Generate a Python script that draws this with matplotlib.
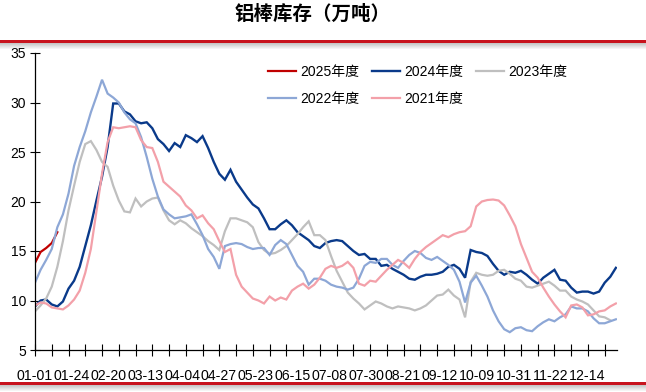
import numpy as np
import matplotlib
matplotlib.use("Agg")
import matplotlib.pyplot as plt
from matplotlib.patches import Rectangle

plt.rcParams['font.family'] = ['Liberation Sans', 'Noto Sans CJK SC', 'DejaVu Sans']

title = "铝棒库存（万吨）"
x_labels = ['01-01', '01-24', '02-20', '03-13', '04-04', '04-27', '05-23', '06-15',
            '07-08', '07-30', '08-21', '09-12', '10-09', '10-31', '11-22', '12-14']

s2025 = [13.8, 14.9, 15.3, 15.8, 16.9]
s2024 = [9.4, 10.0, 10.1, 9.6, 9.4, 9.9, 11.2, 12.0, 13.4, 15.5,
         17.6, 20.1, 22.5, 25.5, 29.9, 29.9, 29.1, 28.8, 28.1, 27.9,
         28.0, 27.4, 26.3, 25.8, 25.1, 25.9, 25.5, 26.7, 26.4, 26.0,
         26.6, 25.4, 24.0, 22.8, 22.2, 23.2, 22.0, 21.2, 20.4, 19.7,
         19.3, 18.3, 17.2, 17.2, 17.7, 18.1, 17.6, 16.9, 16.5, 16.1,
         15.5, 15.3, 15.8, 16.0, 16.1, 16.0, 15.5, 15.0, 14.6, 14.7,
         14.2, 14.2, 13.5, 13.6, 13.2, 12.9, 12.6, 12.2, 12.1, 12.4,
         12.6, 12.6, 12.7, 12.9, 13.4, 13.6, 13.2, 12.3, 15.1, 14.9,
         14.8, 14.5, 13.7, 13.0, 12.6, 12.9, 12.8, 13.0, 12.6, 12.1,
         11.7, 12.3, 12.7, 13.1, 12.1, 12.0, 11.3, 10.8, 10.9, 10.9,
         10.7, 10.9, 11.8, 12.4, 13.3]
s2023 = [8.9, 9.5, 10.2, 11.4, 13.4, 16.0, 19.1, 21.6, 24.0, 25.8,
         26.1, 25.2, 24.0, 23.5, 21.6, 20.1, 19.0, 18.9, 20.3, 19.5,
         20.0, 20.3, 20.4, 19.1, 18.1, 17.7, 18.1, 17.8, 17.3, 16.9,
         16.5, 16.0, 15.6, 15.1, 17.0, 18.3, 18.3, 18.1, 17.9, 17.4,
         15.9, 15.1, 14.7, 14.8, 15.1, 15.5, 16.1, 16.7, 17.4, 18.0,
         16.6, 16.6, 16.1, 14.5, 13.0, 11.9, 10.8, 10.2, 9.7, 9.1,
         9.5, 9.9, 9.7, 9.4, 9.2, 9.4, 9.3, 9.2, 9.0, 9.2,
         9.5, 10.0, 10.5, 10.6, 11.1, 10.5, 10.1, 8.3, 11.9, 12.8,
         12.6, 12.5, 12.6, 13.0, 13.1, 12.7, 12.2, 12.0, 11.4, 11.3,
         11.5, 11.7, 11.9, 11.5, 11.0, 11.0, 10.4, 10.1, 9.9, 9.6,
         9.0, 8.4, 8.3, 8.0]
s2022 = [11.8, 13.1, 14.1, 15.2, 17.4, 18.7, 20.8, 23.6, 25.5, 27.1,
         29.0, 30.6, 32.3, 30.9, 30.5, 30.0, 29.0, 28.3, 27.9, 26.5,
         24.5, 22.3, 20.5, 19.2, 18.7, 18.3, 18.4, 18.5, 18.7, 17.7,
         16.6, 15.2, 14.4, 13.2, 15.5, 15.7, 15.8, 15.7, 15.4, 15.2,
         15.3, 15.3, 14.6, 15.6, 16.1, 15.7, 14.6, 13.5, 12.9, 11.6,
         12.2, 12.2, 12.0, 11.6, 11.4, 11.3, 11.1, 11.3, 12.2, 13.5,
         13.9, 13.8, 14.2, 14.2, 13.6, 13.3, 14.0, 14.6, 15.0, 14.8,
         14.3, 14.1, 14.4, 14.0, 13.6, 13.1, 11.9, 9.8, 11.8, 12.5,
         11.5, 10.4, 9.0, 7.9, 7.1, 6.8, 7.2, 7.3, 7.0, 6.9,
         7.4, 7.8, 8.1, 7.9, 8.3, 8.6, 9.4, 9.2, 9.2, 8.9,
         8.2, 7.7, 7.7, 7.9, 8.1]
s2021 = [9.5, 9.8, 9.7, 9.3, 9.2, 9.1, 9.5, 10.1, 11.0, 12.8,
         15.2, 19.0, 22.8, 26.0, 27.5, 27.4, 27.5, 27.6, 27.5, 26.2,
         25.5, 25.4, 24.0, 22.0, 21.5, 21.0, 20.5, 19.6, 19.1, 18.3,
         18.6, 17.8, 17.2, 16.0, 14.9, 15.2, 12.6, 11.4, 10.8, 10.2,
         10.0, 9.7, 10.4, 10.0, 10.3, 10.1, 11.0, 11.4, 11.7, 11.2,
         11.6, 12.3, 13.2, 13.5, 13.3, 13.5, 13.9, 13.3, 11.7, 11.5,
         12.0, 11.9, 12.5, 13.1, 13.6, 14.1, 13.8, 13.3, 14.2, 14.9,
         15.4, 15.8, 16.2, 16.6, 16.4, 16.7, 16.9, 17.0, 17.5, 19.5,
         20.0, 20.15, 20.2, 20.1, 19.6, 18.6, 17.5, 15.7, 14.3, 12.9,
         12.3, 11.3, 10.4, 9.6, 8.9, 8.3, 9.5, 9.6, 9.3, 8.5,
         8.6, 8.9, 9.0, 9.4, 9.7]

series = [
    ("2025年度", s2025, "#C00000", 1.6),
    ("2024年度", s2024, "#0A3A8A", 1.7),
    ("2023年度", s2023, "#BFBFBF", 1.6),
    ("2022年度", s2022, "#8DA7D6", 1.6),
    ("2021年度", s2021, "#F3A0A9", 1.6),
]

W, H = 646, 392
fig = plt.figure(figsize=(W / 100, H / 100), dpi=100)
fig.patch.set_facecolor('white')

ax_left, ax_right, ax_top, ax_bot = 35, 617, 53, 350
ax = fig.add_axes([ax_left / W, 1 - ax_bot / H, (ax_right - ax_left) / W, (ax_bot - ax_top) / H])
ax.set_facecolor('none')

handles = {}
for name, vals, col, lw in series:
    x = np.arange(len(vals))
    ln, = ax.plot(x, vals, color=col, lw=lw, solid_joinstyle='miter', label=name)
    handles[name] = ln

ax.set_xlim(0, 104.2)
ax.set_ylim(5, 35)
ax.set_yticks(np.arange(5, 36, 5))
ax.tick_params(axis='y', direction='inout', length=7, width=0.8, labelsize=10, pad=3)
ax.xaxis.remove_overlapping_locs = False
ax.set_xticks(np.arange(0, 103, 3))
ax.set_xticklabels([])
ax.tick_params(axis='x', which='major', direction='inout', length=8, width=0.8)
label_pos = np.arange(len(x_labels)) * 6.59
ax.set_xticks(label_pos, minor=True)
ax.set_xticklabels(x_labels, minor=True)
ax.tick_params(axis='x', which='minor', length=0, labelsize=10.2, pad=14)
for sp in ['top', 'right']:
    ax.spines[sp].set_visible(False)
ax.spines['left'].set_linewidth(0.9)
ax.spines['bottom'].set_linewidth(0.9)

order = ["2025年度", "2022年度", "2024年度", "2021年度", "2023年度"]
leg = fig.legend([handles[n] for n in order], order, ncol=3, loc='upper left',
                 bbox_to_anchor=(261 / W, 1 - 58 / H), frameon=False, fontsize=10,
                 handlelength=2.0, handletextpad=0.3, columnspacing=0.95,
                 labelspacing=0.95, borderpad=0)

fig.text(313 / W, 1 - 14 / H, title, ha='center', va='center', fontsize=14,
         fontweight='bold', family=['Noto Sans CJK SC'])

# decorative header / footer rules
def rule(y_red):
    fig.add_artist(Rectangle((0, 1 - (y_red + 3) / H), 1, 3 / H, transform=fig.transFigure,
                             facecolor='#C8141E', edgecolor='none'))
    for k in range(6):
        yy = y_red + 3 + k
        fig.add_artist(Rectangle((0, 1 - (yy + 1) / H), 1, 1 / H, transform=fig.transFigure,
                                 facecolor='#9a9a9a', alpha=0.55 * (1 - k / 6), edgecolor='none'))

rule(40)
rule(382)

fig.savefig("out.png", dpi=100)
